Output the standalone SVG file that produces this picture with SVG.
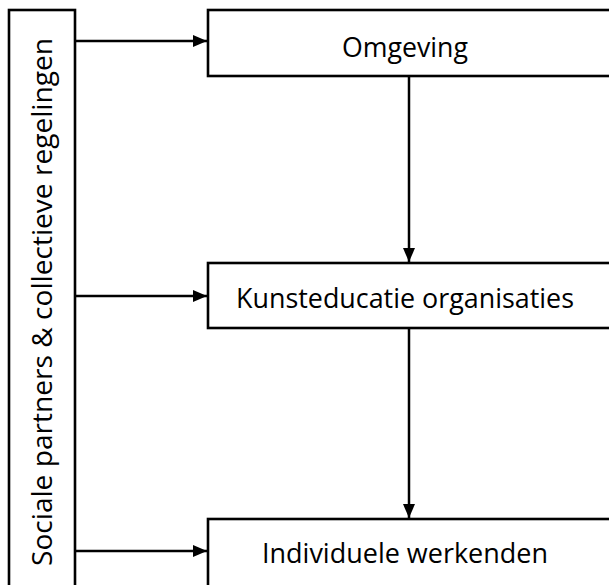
<svg xmlns="http://www.w3.org/2000/svg" width="609" height="585" viewBox="0 0 609 585">
<style>
.box{fill:#fff;stroke:#000;stroke-width:2.6}
.lbl{font-family:"Open Sans","Liberation Sans",sans-serif;font-size:27px;fill:#000;text-anchor:middle}
.con{stroke:#000;stroke-width:2.5;fill:none}
</style>
<defs>
<marker id="ah" viewBox="0 0 14 12" refX="14" refY="6" markerWidth="14" markerHeight="12" markerUnits="userSpaceOnUse" orient="auto">
<path d="M0,0 L14,6 L0,12 Z" fill="#000"/>
</marker>
</defs>
<rect width="609" height="585" fill="#fff"/>
<g id="sociale">
<rect class="box" x="9" y="10" width="66" height="590"/>
<text class="lbl" transform="translate(52,302) rotate(-90)" font-size="28" textLength="528" lengthAdjust="spacingAndGlyphs">Sociale partners &amp; collectieve regelingen</text>
</g>
<g id="omgeving">
<rect class="box" x="208" y="10" width="410" height="66"/>
<text class="lbl" x="405" y="57" textLength="126" lengthAdjust="spacingAndGlyphs">Omgeving</text>
</g>
<g id="kunsteducatie">
<rect class="box" x="208" y="263" width="410" height="65"/>
<text class="lbl" x="405" y="308" textLength="338" lengthAdjust="spacingAndGlyphs">Kunsteducatie organisaties</text>
</g>
<g id="individuele">
<rect class="box" x="208" y="519" width="410" height="80"/>
<text class="lbl" x="405" y="563" textLength="286" lengthAdjust="spacingAndGlyphs">Individuele werkenden</text>
</g>
<g id="connectors">
<line class="con" x1="75" y1="41" x2="207" y2="41" marker-end="url(#ah)"/>
<line class="con" x1="75" y1="296" x2="207" y2="296" marker-end="url(#ah)"/>
<line class="con" x1="75" y1="551" x2="207" y2="551" marker-end="url(#ah)"/>
<line class="con" x1="409" y1="76" x2="409" y2="262" marker-end="url(#ah)"/>
<line class="con" x1="409" y1="328" x2="409" y2="518" marker-end="url(#ah)"/>
</g>
</svg>
